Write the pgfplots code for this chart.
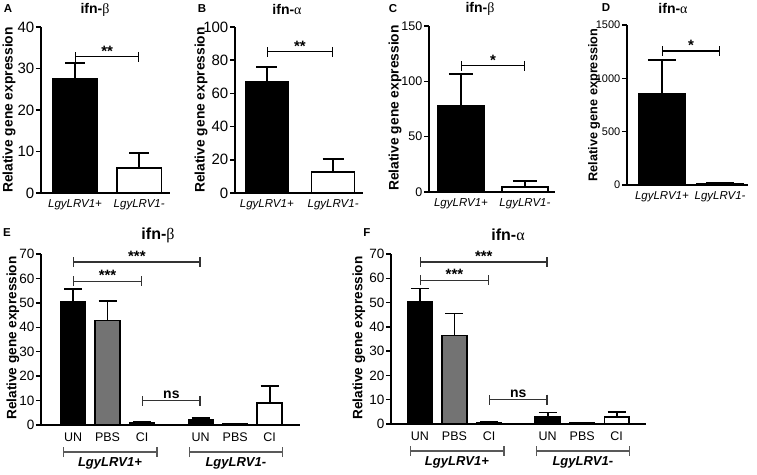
\documentclass[border=0pt]{standalone}
\usepackage{fontspec}
\setmainfont{Liberation Sans}
\newfontfamily\grk{Liberation Serif}
\usepackage{pgfplots}
\pgfplotsset{compat=1.18}
\usetikzlibrary{arrows.meta}

\newcommand{\fs}[1]{\fontsize{#1}{#1}\selectfont}
\pgfplotsset{
 prism/.style={
  scale only axis, clip=false, anchor=south west,
  axis x line*=bottom, axis y line*=left,
  axis line style={line width=1.8pt},
  ymin=0,
  tick align=outside, major tick length=5pt,
  ytick style={line width=1.5pt, black},
  xtick style={draw=none},
  x tick label style={font=\fs{11.5}\itshape, inner sep=1pt},
  y tick label style={font=\fs{#1}, inner sep=1.5pt},
  /pgf/number format/assume math mode=true,
  /pgf/number format/1000 sep={},
  ybar, bar shift=0pt,
  error bars/y dir=plus, error bars/y explicit,
  error bars/error bar style={line width=1.8pt, black},
 },
 bk/.style={fill=black, draw=black, line width=1.5pt},
 wh/.style={fill=white, draw=black, line width=1.5pt},
 gy/.style={fill=black!55, draw=black, line width=1.5pt},
 cap/.style={error bars/error mark options={rotate=90, line width=1.8pt, mark size=#1, black}},
}
\tikzset{sig/.style={line width=1.2pt, {Bar[width=10pt]}-{Bar[width=10pt]}},
  star/.style={above, inner sep=0.5pt, font=\fs{15}\bfseries}}
\newcommand{\tfont}{\fs{14}\bfseries}
\newcommand{\pfont}{\fs{11.5}\bfseries}

\begin{document}
\begin{tikzpicture}
\useasboundingbox (0,0) rectangle (757pt,474pt);

% ---------- A ----------
\begin{axis}[prism=15, at={(41pt,281pt)}, width=129pt, height=166pt,
  xmin=-0.53, xmax=1.48, ymax=40, ytick={0,10,...,40},
  xtick={0,1}, xticklabels={LgyLRV1+,LgyLRV1-}, bar width=0.69, cap=10pt]
\addplot[bk] coordinates {(0,27.5) +- (0,3.8)};
\addplot[wh] coordinates {(1,6.0) +- (0,3.6)};
\draw[sig] (axis cs:0,32.8) -- (axis cs:1,32.8);
\node[star] at (axis cs:0.5,32.8) {**};
\end{axis}

% ---------- B ----------
\begin{axis}[prism=15, at={(235pt,281pt)}, width=128pt, height=166pt,
  xmin=-0.48, xmax=1.45, ymax=100, ytick={0,20,...,100},
  xtick={0,1}, xticklabels={LgyLRV1+,LgyLRV1-}, bar width=0.65, cap=10.5pt]
\addplot[bk] coordinates {(0,66.8) +- (0,9.0)};
\addplot[wh] coordinates {(1,12.7) +- (0,7.7)};
\draw[sig] (axis cs:0,85) -- (axis cs:1,85);
\node[star] at (axis cs:0.5,85) {**};
\end{axis}

% ---------- C ----------
\begin{axis}[prism=12.5, at={(429pt,282pt)}, width=126pt, height=166pt,
  xmin=-0.5, xmax=1.47, ymax=150, ytick={0,50,...,150},
  xtick={0,1}, xticklabels={LgyLRV1+,LgyLRV1-}, bar width=0.72, cap=12pt]
\addplot[bk] coordinates {(0,77.9) +- (0,28.9)};
\addplot[wh] coordinates {(1,4.5) +- (0,5.2)};
\draw[sig] (axis cs:0,114) -- (axis cs:1,114);
\node[star] at (axis cs:0.5,114) {*};
\end{axis}

% ---------- D ----------
\begin{axis}[prism=11, at={(627pt,289pt)}, width=121pt, height=160pt,
  xmin=-0.6, xmax=1.48, ymax=1500, ytick={0,500,...,1500},
  xtick={0,1}, xticklabels={LgyLRV1+,LgyLRV1-}, bar width=0.8, cap=14pt]
\addplot[bk] coordinates {(0,853) +- (0,319)};
\addplot[wh] coordinates {(1,16) +- (0,5)};
\draw[sig] (axis cs:0,1256) -- (axis cs:1,1256);
\node[star] at (axis cs:0.5,1256) {*};
\end{axis}

% ---------- E ----------
\begin{axis}[prism=13.5, at={(41pt,49pt)}, width=259pt, height=171pt,
  xmin=-0.93, xmax=6.58, ymax=70, ytick={0,10,...,70},
  xtick={0,1,2,3.7,4.7,5.7}, xticklabels={UN,PBS,CI,UN,PBS,CI},
  x tick label style={font=\fs{12.5}\upshape, inner sep=3pt},
  bar width=0.72, cap=9pt]
\addplot[bk] coordinates {(0,50.3) +- (0,5.4) (3.7,2.1) +- (0,0.8)};
\addplot[gy] coordinates {(1,42.8) +- (0,7.8) (4.7,0.5) +- (0,0.1)};
\addplot[wh] coordinates {(2,0.8) +- (0,0.3) (5.7,9.1) +- (0,7.0)};
\draw[sig, black!80] (axis cs:0,66.7) -- (axis cs:3.7,66.7);
\node[star] at (axis cs:1.85,66.7) {***};
\draw[sig, black!80] (axis cs:0,58.9) -- (axis cs:2,58.9);
\node[star] at (axis cs:1,58.9) {***};
\draw[sig, black!80] (axis cs:2,9.9) -- (axis cs:3.7,9.9);
\node[above, inner sep=2pt, font=\fs{14}\bfseries] at (axis cs:2.85,9.9) {ns};
\draw[sig, black!65] ([yshift=-27pt]axis cs:-0.3,0) -- ([yshift=-27pt]axis cs:2.45,0);
\draw[sig, black!65] ([yshift=-27pt]axis cs:3.35,0) -- ([yshift=-27pt]axis cs:6.1,0);
\node[font=\fs{13}\bfseries\itshape] at ([yshift=-38pt]axis cs:1.07,0) {LgyLRV1+};
\node[font=\fs{13}\bfseries\itshape] at ([yshift=-38pt]axis cs:4.72,0) {LgyLRV1-};
\end{axis}

% ---------- F ----------
\begin{axis}[prism=13.5, at={(391pt,50pt)}, width=255pt, height=170pt,
  xmin=-0.84, xmax=6.55, ymax=70, ytick={0,10,...,70},
  xtick={0,1,2,3.7,4.7,5.7}, xticklabels={UN,PBS,CI,UN,PBS,CI},
  x tick label style={font=\fs{12.5}\upshape, inner sep=3pt},
  bar width=0.72, cap=9pt]
\addplot[bk] coordinates {(0,50.2) +- (0,5.6) (3.7,2.8) +- (0,1.9)};
\addplot[gy] coordinates {(1,36.5) +- (0,9.0) (4.7,0.5) +- (0,0.1)};
\addplot[wh] coordinates {(2,0.7) +- (0,0.2) (5.7,2.9) +- (0,1.9)};
\draw[sig, black!80] (axis cs:0,66.7) -- (axis cs:3.7,66.7);
\node[star] at (axis cs:1.85,66.7) {***};
\draw[sig, black!80] (axis cs:0,59.1) -- (axis cs:2,59.1);
\node[star] at (axis cs:1,59.1) {***};
\draw[sig, black!80] (axis cs:2,10) -- (axis cs:3.7,10);
\node[above, inner sep=2pt, font=\fs{14}\bfseries] at (axis cs:2.85,10) {ns};
\draw[sig, black!65] ([yshift=-27pt]axis cs:-0.3,0) -- ([yshift=-27pt]axis cs:2.45,0);
\draw[sig, black!65] ([yshift=-27pt]axis cs:3.35,0) -- ([yshift=-27pt]axis cs:6.1,0);
\node[font=\fs{13}\bfseries\itshape] at ([yshift=-38pt]axis cs:1.07,0) {LgyLRV1+};
\node[font=\fs{13}\bfseries\itshape] at ([yshift=-38pt]axis cs:4.72,0) {LgyLRV1-};
\end{axis}

% ---------- titles, letters, y labels ----------
\node[font=\tfont] at (95pt,464pt) {ifn-{\grk\mdseries β}};
\node[font=\tfont] at (287pt,464pt) {ifn-{\grk\mdseries α}};
\node[font=\tfont] at (480pt,465pt) {ifn-{\grk\mdseries β}};
\node[font=\tfont] at (673pt,465pt) {ifn-{\grk\mdseries α}};
\node[font=\fs{16}\bfseries] at (158pt,239pt) {ifn-{\grk\mdseries β}};
\node[font=\fs{16}\bfseries] at (508pt,239pt) {ifn-{\grk\mdseries α}};

\node[font=\pfont] at (8pt,465pt) {A};
\node[font=\pfont] at (202pt,465pt) {B};
\node[font=\pfont] at (393pt,465pt) {C};
\node[font=\pfont] at (606pt,466pt) {D};
\node[font=\pfont] at (7pt,241pt) {E};
\node[font=\pfont] at (367pt,241pt) {F};

\node[font=\fs{13.8}\bfseries, rotate=90] at (9pt,364pt) {Relative gene expression};
\node[font=\fs{13.8}\bfseries, rotate=90] at (201pt,364pt) {Relative gene expression};
\node[font=\fs{13.8}\bfseries, rotate=90] at (395pt,366pt) {Relative gene expression};
\node[font=\fs{12.7}\bfseries, rotate=90] at (594pt,369pt) {Relative gene expression};
\node[font=\fs{13.6}\bfseries, rotate=90] at (13pt,136pt) {Relative gene expression};
\node[font=\fs{13.6}\bfseries, rotate=90] at (359pt,136pt) {Relative gene expression};
\end{tikzpicture}
\end{document}
